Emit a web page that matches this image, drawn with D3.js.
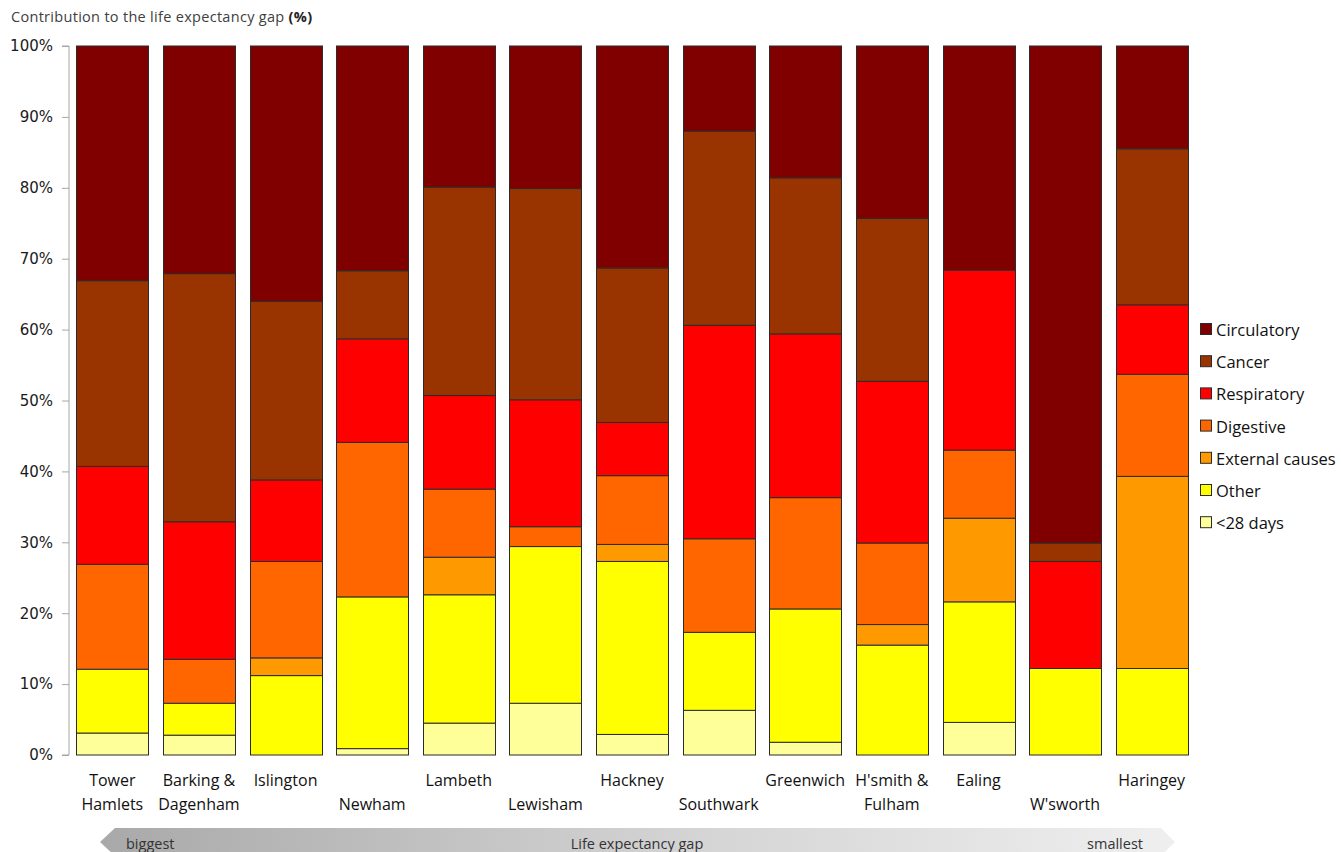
<!DOCTYPE html>
<html>
<head>
<meta charset="utf-8">
<script src="https://cdn.jsdelivr.net/npm/d3@7"></script>
<style>
  html, body { margin: 0; padding: 0; background: #ffffff; }
  svg { display: block; }
</style>
</head>
<body>
<svg id="chart" width="1341" height="852"></svg>
<script>
// Boroughs, ordered from the biggest to the smallest life expectancy gap
const categories = ["Tower Hamlets", "Barking & Dagenham", "Islington", "Newham", "Lambeth",
  "Lewisham", "Hackney", "Southwark", "Greenwich", "H'smith & Fulham", "Ealing", "W'sworth", "Haringey"];

// Line breaks used for the category labels
const categoryLines = [["Tower", "Hamlets"], ["Barking &", "Dagenham"], ["Islington"], ["Newham"],
  ["Lambeth"], ["Lewisham"], ["Hackney"], ["Southwark"], ["Greenwich"], ["H'smith &", "Fulham"],
  ["Ealing"], ["W'sworth"], ["Haringey"]];

// Cause of death series, stacked from the bottom up (% contribution to the gap)
const under28Days  = [3.1, 2.8, 0,    0.9,  4.5,  7.3,  2.9,  6.3,  1.8,  0,    4.6,  0,    0];
const other        = [9.0, 4.5, 11.2, 21.4, 18.1, 22.1, 24.4, 11.0, 18.8, 15.5, 17.0, 12.2, 12.2];
const external     = [0,   0,   2.5,  0,    5.3,  0,    2.4,  0,    0,    2.9,  11.8, 0,    27.1];
const digestive    = [14.8, 6.2, 13.6, 21.8, 9.6, 2.8,  9.7,  13.2, 15.7, 11.5, 9.6,  0,    14.4];
const respiratory  = [13.8, 19.4, 11.5, 14.6, 13.2, 17.9, 7.5, 30.1, 23.1, 22.8, 25.4, 15.1, 9.8];
const cancer       = [26.2, 35.0, 25.2, 9.6, 29.4, 29.8, 21.8, 27.4, 22.0, 23.0, 0,    2.6,  22.0];
const circulatory  = [33.1, 32.1, 36.0, 31.7, 19.9, 20.1, 31.3, 12.0, 18.6, 24.3, 31.6, 70.1, 14.5];

const seriesNames = ["<28 days", "Other", "External causes", "Digestive", "Respiratory", "Cancer", "Circulatory"];
const seriesValues = [under28Days, other, external, digestive, respiratory, cancer, circulatory];
const seriesColors = ["#ffff99", "#ffff00", "#ff9900", "#ff6600", "#ff0000", "#993300", "#800000"];

const yTicks = [0, 10, 20, 30, 40, 50, 60, 70, 80, 90, 100];

const svg = d3.select("#chart");
const plot = { left: 69, right: 1195, top: 46, bottom: 755 };

// Build rows for the stack layout
const rows = categories.map((c, i) => {
  const r = { category: c };
  seriesNames.forEach((s, k) => { r[s] = seriesValues[k][i]; });
  return r;
});
const stacked = d3.stack().keys(seriesNames)(rows);

const x = d3.scaleBand()
  .domain(categories)
  .range([plot.left, plot.right])
  .paddingInner(0.17)
  .paddingOuter(0.085);

const y = d3.scaleLinear().domain([0, 100]).range([plot.bottom, plot.top]);

const color = d3.scaleOrdinal().domain(seriesNames).range(seriesColors);

// Title
const title = svg.append("text")
  .attr("x", 11).attr("y", 22)
  .attr("font-family", "'Open Sans', sans-serif")
  .attr("font-size", 14.5)
  .attr("letter-spacing", 0.3)
  .attr("fill", "#404040");
title.append("tspan").text("Contribution  to the life expectancy gap ");
title.append("tspan").attr("font-weight", "bold").attr("fill", "#222").text("(%)");

// Y axis
const yAxis = d3.axisLeft(y)
  .tickValues(yTicks)
  .tickFormat(d => d + "%")
  .tickSize(7)
  .tickPadding(9);

const yg = svg.append("g")
  .attr("transform", `translate(${plot.left},0)`)
  .call(yAxis);
yg.select(".domain").attr("stroke", "#a6a6a6").attr("d", `M-7,${plot.top}H0V${plot.bottom}H-7`);
yg.selectAll(".tick line").attr("stroke", "#a6a6a6");
yg.selectAll(".tick text")
  .attr("font-family", "'DejaVu Sans', sans-serif")
  .attr("font-size", 15)
  .attr("fill", "#1a1a1a");

// Stacked bars
svg.append("g")
  .selectAll("g")
  .data(stacked)
  .join("g")
  .attr("fill", d => color(d.key))
  .selectAll("rect")
  .data(d => d.filter(p => p[1] - p[0] > 0))
  .join("rect")
  .attr("x", d => Math.round(x(d.data.category)) + 0.5)
  .attr("width", Math.round(x.bandwidth()))
  .attr("y", d => y(d[1]))
  .attr("height", d => y(d[0]) - y(d[1]))
  .attr("stroke", "#2b2b2b")
  .attr("stroke-width", 1);

// Category labels (single-line labels at odd positions drop to the second row)
const labels = svg.append("g")
  .attr("font-family", "'Open Sans', sans-serif")
  .attr("font-size", 16)
  .attr("fill", "#111")
  .attr("text-anchor", "middle");
categories.forEach((c, i) => {
  const lines = categoryLines[i];
  const startRow = (lines.length === 1 && i % 2 === 1) ? 1 : 0;
  const t = labels.append("text")
    .attr("x", x(c) + x.bandwidth() / 2);
  lines.forEach((ln, j) => {
    t.append("tspan")
      .attr("x", x(c) + x.bandwidth() / 2)
      .attr("y", 786 + (startRow + j) * 24)
      .text(ln);
  });
});

// Legend (top series first)
const legendOrder = seriesNames.slice().reverse();
const legend = svg.append("g")
  .attr("font-family", "'Open Sans', sans-serif")
  .attr("font-size", 16.5)
  .attr("fill", "#111");
legendOrder.forEach((s, i) => {
  const cy = 330 + i * 32.2;
  legend.append("rect")
    .attr("x", 1200.5).attr("y", cy - 6.5)
    .attr("width", 11).attr("height", 11)
    .attr("fill", color(s))
    .attr("stroke", "#2b2b2b").attr("stroke-width", 1);
  legend.append("text")
    .attr("x", 1216).attr("y", cy + 6)
    .text(s);
});

// Direction banner under the chart
const defs = svg.append("defs");
const grad = defs.append("linearGradient").attr("id", "bannerGrad")
  .attr("x1", "0%").attr("x2", "100%").attr("y1", "0%").attr("y2", "0%");
grad.append("stop").attr("offset", "0%").attr("stop-color", "#a9a9a9");
grad.append("stop").attr("offset", "55%").attr("stop-color", "#d4d4d4");
grad.append("stop").attr("offset", "100%").attr("stop-color", "#efefef");

const bTop = 828, bMid = 842, bBot = 856;
svg.append("path")
  .attr("d", `M100,${bMid}L115,${bTop}H1161L1175,${bMid}L1161,${bBot}H115Z`)
  .attr("fill", "url(#bannerGrad)");

const banner = svg.append("g")
  .attr("font-family", "'Open Sans', sans-serif")
  .attr("font-size", 14.5)
  .attr("fill", "#333");
banner.append("text").attr("x", 126).attr("y", 849).text("biggest");
banner.append("text").attr("x", 637).attr("y", 849).attr("text-anchor", "middle").text("Life expectancy gap");
banner.append("text").attr("x", 1143).attr("y", 849).attr("text-anchor", "end").text("smallest");
</script>
</body>
</html>
